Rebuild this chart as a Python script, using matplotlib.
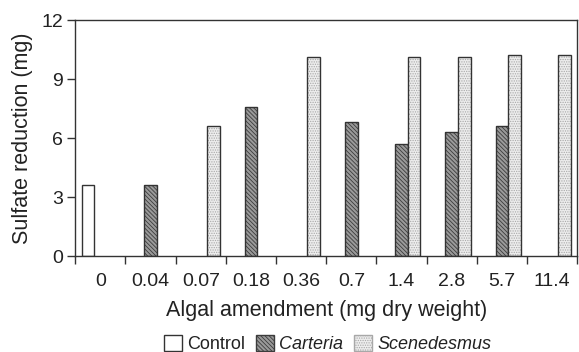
import numpy as np
import matplotlib.pyplot as plt
from matplotlib.patches import Patch

plt.rcParams['font.family'] = ['Liberation Sans', 'DejaVu Sans']
plt.rcParams['hatch.linewidth'] = 0.6

amendment = ['0', '0.04', '0.07', '0.18', '0.36', '0.7', '1.4', '2.8', '5.7', '11.4']
control = [3.6, np.nan, np.nan, np.nan, np.nan, np.nan, np.nan, np.nan, np.nan, np.nan]
carteria = [np.nan, 3.6, np.nan, 7.6, np.nan, 6.8, 5.7, 6.3, 6.6, np.nan]
scenedesmus = [np.nan, np.nan, 6.6, np.nan, 10.1, np.nan, 10.1, 10.1, 10.2, 10.2]

fig = plt.figure(figsize=(5.79, 3.52), dpi=100)
ax = fig.add_axes([0.130, 0.272, 0.867, 0.671])

x = np.arange(len(amendment))
w = 0.25
edge = '#333333'
cart_hatch = '\\\\\\\\\\\\\\\\'
scen_hatch = '.......'

# fill + texture first (hatch takes the edge colour), outline drawn on top
ax.bar(x - w, control, w, color='white', edgecolor=edge, linewidth=1.0)
ax.bar(x, carteria, w, color='#9a9a9a', edgecolor='#3c3c3c', linewidth=0, hatch=cart_hatch)
ax.bar(x, carteria, w, fill=False, edgecolor=edge, linewidth=1.0)
ax.bar(x + w, scenedesmus, w, color='#ededed', edgecolor='#a8a8a8', linewidth=0, hatch=scen_hatch)
ax.bar(x + w, scenedesmus, w, fill=False, edgecolor=edge, linewidth=1.0)

ax.set_xlim(-0.5, len(amendment) - 0.5)
ax.set_ylim(0, 12)
ax.set_yticks([0, 3, 6, 9, 12])

# ticks at category boundaries, labels at centres
ax.set_xticks(np.arange(-0.5, len(amendment), 1.0))
ax.set_xticklabels([])
ax.set_xticks(x, minor=True)
ax.set_xticklabels(amendment, minor=True)
ax.tick_params(axis='x', which='major', length=6, width=1.0, color=edge, direction='out')
ax.tick_params(axis='x', which='minor', length=0, pad=12, labelsize=14, labelcolor='#222222')
ax.tick_params(axis='y', length=6, width=1.0, color=edge, labelsize=14, pad=3, labelcolor='#222222')

for s in ax.spines.values():
    s.set_color(edge)
    s.set_linewidth(1.0)

ax.set_xlabel('Algal amendment (mg dry weight)', fontsize=15.5, labelpad=7, color='#222222')
ax.set_ylabel('Sulfate reduction (mg)', fontsize=15.5, labelpad=6, color='#222222')

handles = [Patch(facecolor='white', edgecolor=edge, linewidth=1.0),
           Patch(facecolor='#9a9a9a', edgecolor='#3c3c3c', hatch=cart_hatch, linewidth=1.0),
           Patch(facecolor='#ededed', edgecolor='#a8a8a8', hatch=scen_hatch, linewidth=1.0)]
labels = ['Control', 'Carteria', 'Scenedesmus']
leg = fig.legend(handles, labels, loc='lower center', bbox_to_anchor=(0.566, -0.05), ncol=3,
                 frameon=False, fontsize=13, handlelength=1.0, handleheight=1.0,
                 handletextpad=0.3, columnspacing=0.6, labelcolor='#222222')
for t in leg.get_texts()[1:]:
    t.set_style('italic')

fig.savefig('out.png', dpi=100)
